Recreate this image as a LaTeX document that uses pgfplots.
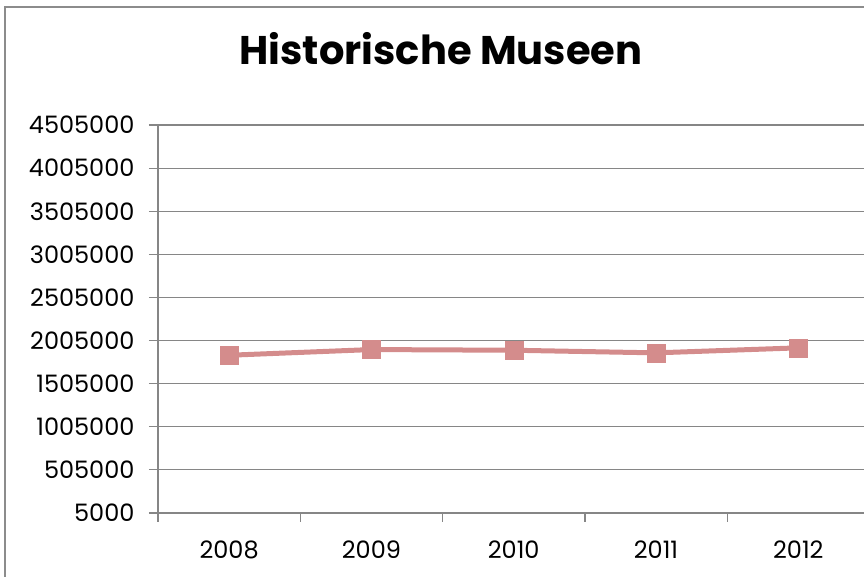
\documentclass[border=0pt]{standalone}
\usepackage{fontspec}
\setmainfont{Poppins}
\usepackage{pgfplots}
\pgfplotsset{compat=1.18}
\definecolor{lineRed}{RGB}{212,140,140}
\definecolor{gridGray}{RGB}{134,134,134}
\definecolor{frameGray}{RGB}{140,140,140}
\begin{document}
\begin{tikzpicture}[x=1pt,y=1pt]
\useasboundingbox (0,0) rectangle (864,577);
\draw[frameGray, line width=1.5pt] (5,-20) -- (5,570) -- (900,570);
\node[anchor=base, font=\fontsize{40}{42}\selectfont\bfseries] at (441,512) {Historische Museen};
\begin{axis}[
  at={(158pt,64pt)}, anchor=south west,
  scale only axis, width=711.5pt, height=388pt,
  xmin=-0.5, xmax=4.5,
  ymin=5000, ymax=4505000,
  ytick={5000,505000,1005000,1505000,2005000,2505000,3005000,3505000,4005000,4505000},
  xtick={-0.5,0.5,1.5,2.5,3.5,4.5},
  xticklabels={2008,2009,2010,2011,2012},
  x tick label as interval,
  axis lines=left,
  axis line style={-, gridGray, line width=1.2pt},
  tick style={gridGray, line width=1.2pt},
  tick align=outside,
  major tick length=9pt,
  ymajorgrids,
  grid style={gridGray, line width=1.2pt},
  /pgf/number format/assume math mode=true,
  yticklabel style={/pgf/number format/fixed, /pgf/number format/precision=0, /pgf/number format/1000 sep={}, font=\fontsize{24}{26}\selectfont, anchor=east, xshift=-11pt},
  xticklabel style={font=\fontsize{24}{26}\selectfont, yshift=-15pt},
  scaled y ticks=false,
  clip=false,
]
\addplot[lineRed, line width=5pt, mark=square*, mark size=9pt, mark options={solid, fill=lineRed, draw=lineRed, line width=0.5pt}] coordinates {
(0,1834500) (1,1900600) (2,1892500) (3,1862300) (4,1920300)
};
\end{axis}
\end{tikzpicture}
\end{document}
